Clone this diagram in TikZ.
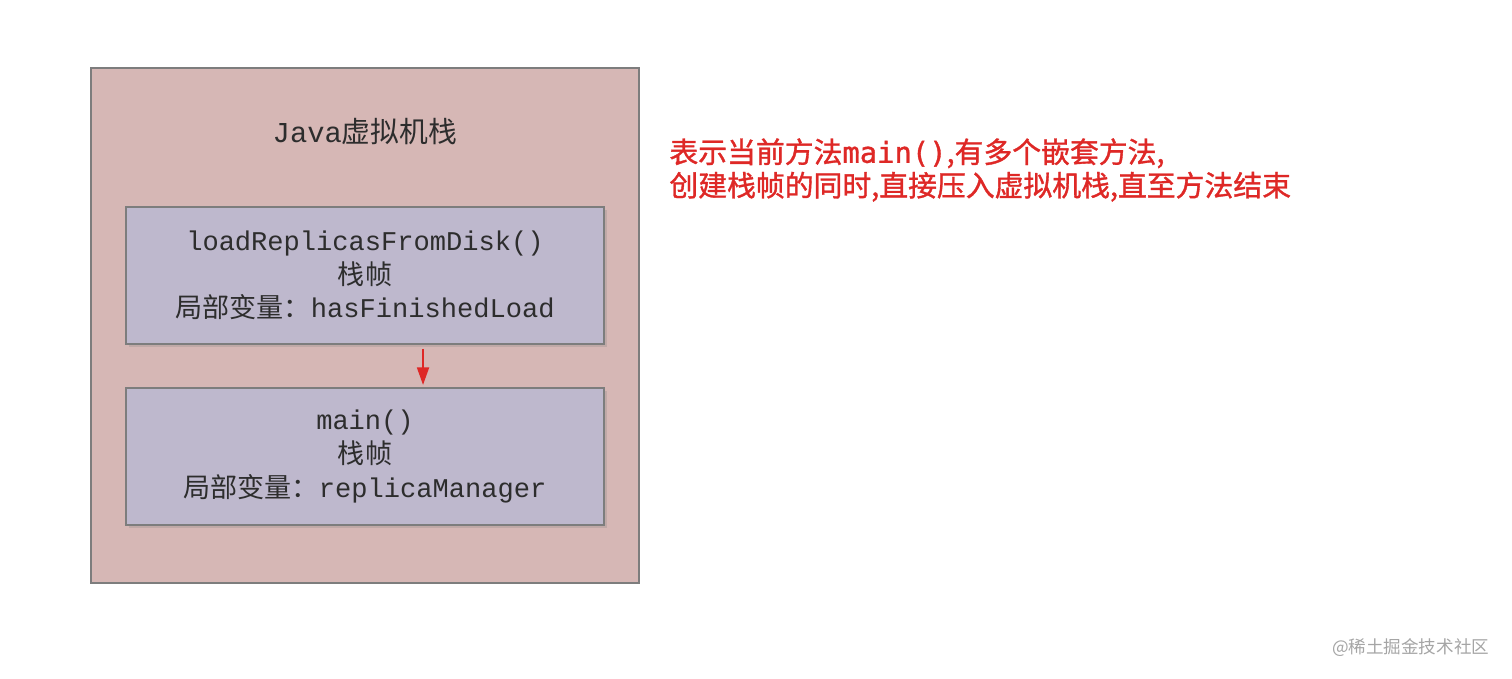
\documentclass[tikz,border=0pt]{standalone}
\usepackage{fontspec}
\setmainfont{Noto Sans CJK SC}
\setmonofont{Liberation Mono}
\newfontfamily\cjk{Noto Sans CJK SC}
\newfontfamily\notefont[FakeBold=1.2]{Noto Sans CJK SC}
\newfontfamily\notemono[FakeBold=1.2]{DejaVu Sans Mono}
\usetikzlibrary{arrows.meta,positioning,shadows}
\definecolor{stackpink}{RGB}{214,183,181}
\definecolor{framelav}{RGB}{190,184,205}
\definecolor{edgegray}{RGB}{125,125,125}
\definecolor{textgray}{RGB}{45,45,45}
\definecolor{notered}{RGB}{222,40,38}
\definecolor{markgray}{RGB}{165,165,165}

\begin{document}
\begin{tikzpicture}[x=0.01cm,y=-0.01cm,
    stackbox/.style={draw=edgegray,fill=stackpink,line width=0.6pt,
                     minimum width=5.48cm,minimum height=5.15cm,inner sep=0pt},
    framebox/.style={draw=edgegray,fill=framelav,line width=0.5pt,
                     minimum width=4.78cm,minimum height=1.37cm,align=center,
                     text=textgray,font=\ttfamily\fontsize{7.7}{9.6}\selectfont,
                     drop shadow={shadow xshift=0.8pt,shadow yshift=-0.8pt,opacity=0.25}},
    push/.style={-{Triangle[length=5pt,width=3.4pt]},notered,line width=0.6pt}
  ]
    \useasboundingbox (0,0) rectangle (1512,678);

    \node[stackbox] (jvmstack) at (365,325.5) {};
    \node[text=textgray,font=\ttfamily\fontsize{8.2}{10}\selectfont] (stacktitle) at (365,132)
      {Java{\cjk 虚拟机栈}};

    \node[framebox] (frameload) at (365,275.5)
      {loadReplicasFromDisk()\\{\cjk 栈帧}\\{\cjk 局部变量：}hasFinishedLoad};
    \node[framebox,below=0.42cm of frameload] (framemain)
      {main()\\{\cjk 栈帧}\\{\cjk 局部变量：}replicaManager};

    \draw[push] ([xshift=0.58cm,yshift=-0.04cm]frameload.south) -- ([xshift=0.58cm,yshift=0.02cm]framemain.north);

    \node[anchor=west,align=left,text=notered,font=\notefont\fontsize{8.2}{8.4}\selectfont] (note) at (657,170)
      {表示当前方法{\notemono main()},有多个嵌套方法,\\创建栈帧的同时,直接压入虚拟机栈,直至方法结束};

    \node[anchor=east,inner sep=0pt,text=markgray,font=\cjk\fontsize{5}{6}\selectfont] (mark) at (1490,648)
      {@稀土掘金技术社区};
  \end{tikzpicture}
\end{document}
